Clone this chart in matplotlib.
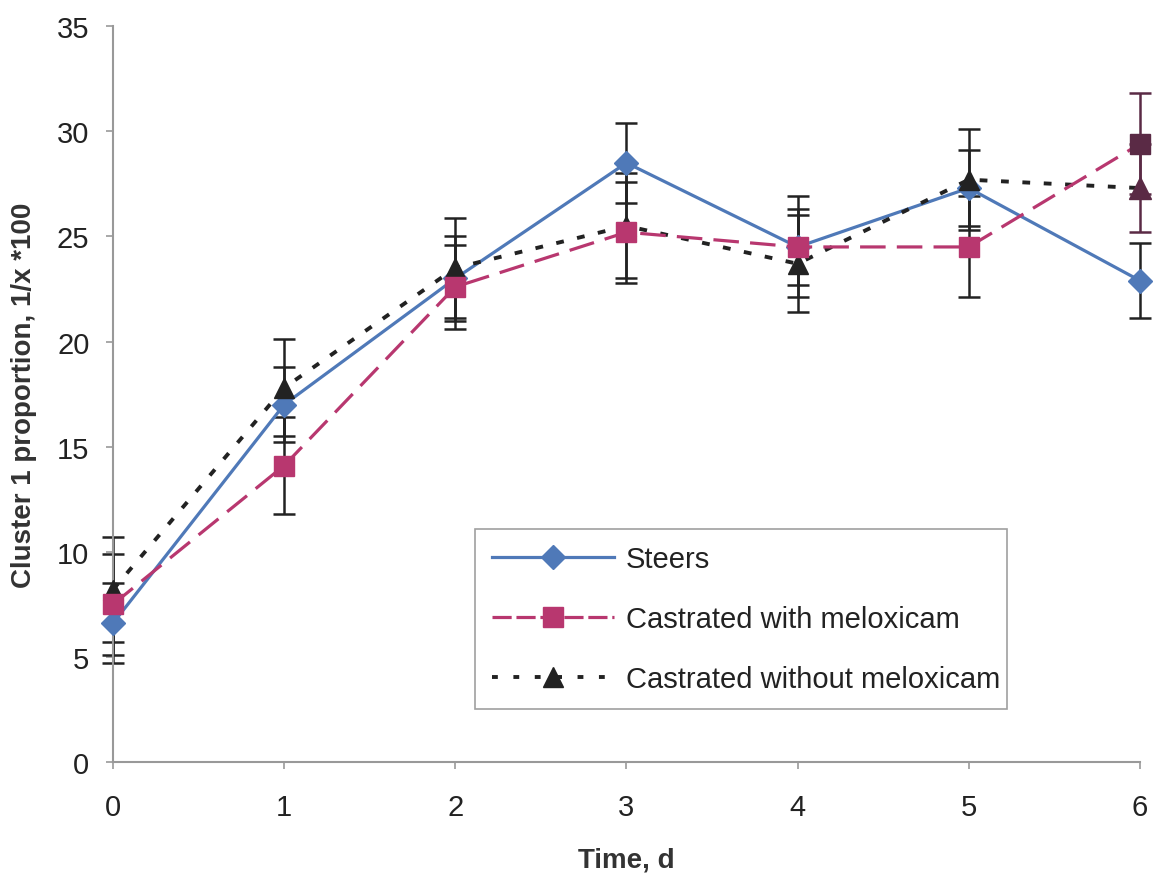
import matplotlib
matplotlib.use("Agg")
import matplotlib.pyplot as plt
from matplotlib.lines import Line2D

plt.rcParams['font.family'] = ['Liberation Sans', 'DejaVu Sans']

days = [0, 1, 2, 3, 4, 5, 6]
steers = [6.6, 17.0, 23.0, 28.5, 24.5, 27.3, 22.9]
steers_err = [1.9, 1.8, 2.0, 1.9, 2.4, 1.8, 1.8]
melox = [7.5, 14.1, 22.6, 25.2, 24.5, 24.5, 29.4]
melox_err = [2.4, 2.3, 2.0, 2.4, 1.8, 2.4, 2.4]
without = [8.2, 17.8, 23.5, 25.5, 23.7, 27.7, 27.3]
without_err = [2.5, 2.3, 2.4, 2.5, 2.3, 2.4, 2.1]
labels = ["Steers", "Castrated with meloxicam", "Castrated without meloxicam"]

blue = "#4f79b8"
pink = "#b8376f"
dark = "#222222"
maroon = "#5a2a45"

fig = plt.figure(figsize=(11.59, 8.78), dpi=100)
ax = fig.add_axes([0.0975, 0.131, 0.886, 0.838])

lw = 2.3
melox_ls = (0, (8, 3.5))
without_ls = (0, (2.0, 3.5))


def ebar(x, y, e, color):
    _, caps, bars = ax.errorbar(x, y, yerr=e, fmt="none", zorder=2, ecolor=color,
                                elinewidth=1.8, capsize=8, capthick=1.8)
    for c in caps:
        c.set_clip_on(False)
    for b in bars:
        b.set_clip_on(False)


ebar(days, steers, steers_err, dark)
ebar(days[:-1], melox[:-1], melox_err[:-1], dark)
ebar(days[:-1], without[:-1], without_err[:-1], dark)
ebar(days[-1:], melox[-1:], melox_err[-1:], maroon)
ebar(days[-1:], without[-1:], without_err[-1:], maroon)

ax.plot(days, steers, color=blue, lw=lw, marker="D", markersize=12,
        markerfacecolor=blue, markeredgecolor=blue, zorder=3, clip_on=False)
ax.plot(days, melox, color=pink, lw=lw, linestyle=melox_ls, zorder=4, clip_on=False)
ax.plot(days[:-1], melox[:-1], linestyle="none", marker="s", markersize=14,
        color=pink, zorder=4, clip_on=False)
ax.plot(days, without, color=dark, lw=lw + 0.5, linestyle=without_ls, zorder=3,
        clip_on=False)
ax.plot(days[:-1], without[:-1], linestyle="none", marker="^", markersize=15,
        color=dark, zorder=3, clip_on=False)
ax.plot(days[-1:], melox[-1:], linestyle="none", marker="s", markersize=15,
        color=maroon, zorder=5, clip_on=False)
ax.plot(days[-1:], without[-1:], linestyle="none", marker="^", markersize=16,
        color=maroon, zorder=5, clip_on=False)

ax.set_xlim(0, 6)
ax.set_ylim(0, 35)
ax.set_xticks(range(0, 7))
ax.set_yticks(range(0, 36, 5))
for s in ["top", "right"]:
    ax.spines[s].set_visible(False)
for s in ["left", "bottom"]:
    ax.spines[s].set_color("#999999")
    ax.spines[s].set_linewidth(1.5)
ax.tick_params(axis="both", colors="#999999", labelcolor="#222222", labelsize=21,
               length=5, width=1.2, direction="out")
ax.tick_params(axis="x", pad=17)
ax.tick_params(axis="y", pad=12)

ax.set_xlabel("Time, d", fontsize=20, fontweight="bold", color="#333333", labelpad=19)
ax.set_ylabel("Cluster 1 proportion, 1/x *100", fontsize=20, fontweight="bold",
              color="#333333", labelpad=14)

handles = [
    Line2D([], [], color=blue, lw=lw, marker="D", markersize=12),
    Line2D([], [], color=pink, lw=lw, linestyle=(0, (6, 1.5)), marker="s", markersize=14),
    Line2D([], [], color=dark, lw=lw + 0.5, linestyle=(0, (1.5, 4.0)), marker="^", markersize=15),
]
leg = ax.legend(handles=handles, labels=labels, loc="upper left",
                bbox_to_anchor=(0.353, 0.3166, 0.518, 0.0), mode="expand",
                fontsize=21, frameon=True, fancybox=False, borderaxespad=0,
                handlelength=4.2, labelspacing=1.1, borderpad=0.55, handletextpad=0.4,
                numpoints=1)
leg.get_frame().set_edgecolor("#888888")
leg.get_frame().set_linewidth(1.2)
for t in leg.get_texts():
    t.set_color("#222222")

fig.savefig("out.png", dpi=100, facecolor="white")
